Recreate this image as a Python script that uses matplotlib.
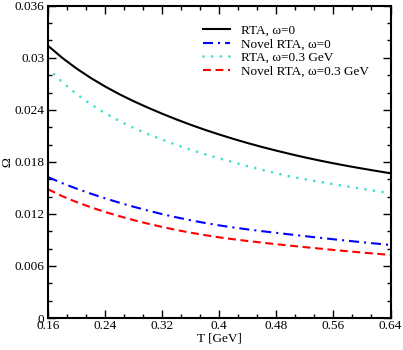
import numpy as np
import matplotlib
matplotlib.use("Agg")
import matplotlib.pyplot as plt
from matplotlib.ticker import MultipleLocator, FixedFormatter, FixedLocator

# temperature grid [GeV]
T = [0.16, 0.18, 0.20, 0.22, 0.24, 0.26, 0.28, 0.30, 0.32, 0.34, 0.36, 0.38, 0.40,
     0.42, 0.44, 0.46, 0.48, 0.50, 0.52, 0.54, 0.56, 0.58, 0.60, 0.62, 0.64]

# Omega values
rta_w0 = [0.03140, 0.03000, 0.02877, 0.02768, 0.02670, 0.02581, 0.02500, 0.02426,
          0.02356, 0.02290, 0.02228, 0.02170, 0.02116, 0.02065, 0.02017, 0.01972,
          0.01930, 0.01890, 0.01852, 0.01817, 0.01784, 0.01753, 0.01724, 0.01696,
          0.01669]
novel_w0 = [0.01625, 0.01555, 0.01492, 0.01434, 0.01380, 0.01330, 0.01283, 0.01239,
            0.01198, 0.01161, 0.01127, 0.01096, 0.01068, 0.01044, 0.01022, 0.01001,
            0.00982, 0.00963, 0.00944, 0.00926, 0.00908, 0.00891, 0.00874, 0.00858,
            0.00842]
rta_w03 = [0.02880, 0.02720, 0.02582, 0.02465, 0.02362, 0.02272, 0.02192, 0.02122,
           0.02057, 0.01996, 0.01940, 0.01889, 0.01841, 0.01795, 0.01751, 0.01709,
           0.01669, 0.01630, 0.01600, 0.01571, 0.01543, 0.01516, 0.01490, 0.01464,
           0.01439]
novel_w03 = [0.01485, 0.01405, 0.01337, 0.01277, 0.01223, 0.01174, 0.01129, 0.01088,
             0.01050, 0.01015, 0.00984, 0.00956, 0.00930, 0.00908, 0.00888, 0.00869,
             0.00851, 0.00834, 0.00817, 0.00801, 0.00785, 0.00770, 0.00755, 0.00741,
             0.00727]

labels = ["RTA, ω=0", "Novel RTA, ω=0", "RTA, ω=0.3 GeV", "Novel RTA, ω=0.3 GeV"]

x_ticks = [0.16, 0.24, 0.32, 0.40, 0.48, 0.56, 0.64]
x_ticklabels = ["0.16", "0.24", "0.32", "0.4", "0.48", "0.56", "0.64"]
y_ticks = [0, 0.006, 0.012, 0.018, 0.024, 0.03, 0.036]
y_ticklabels = ["0", "0.006", "0.012", "0.018", "0.024", "0.03", "0.036"]

plt.rcParams["font.family"] = ["Liberation Serif", "DejaVu Serif"]
fs = 9.5

fig = plt.figure(figsize=(4.03, 3.5), dpi=100)
ax = fig.add_axes([0.119, 0.0914, 0.850, 0.892])

lw = 1.5
ax.plot(T, rta_w0, color="black", lw=lw, label=labels[0])
ax.plot(T, novel_w0, color="blue", lw=lw, label=labels[1],
        linestyle=(0, (4.8, 2.4, 1.0, 2.4)))
ax.plot(T, rta_w03, color="#40e0d0", lw=2.0, label=labels[2],
        linestyle=(0, (0.01, 3.1)), dash_capstyle="round")
ax.plot(T, novel_w03, color="red", lw=lw, label=labels[3],
        linestyle=(0, (3.8, 2.2)))

ax.set_xlim(0.16, 0.64)
ax.set_ylim(0, 0.036)

ax.xaxis.set_major_locator(FixedLocator(x_ticks))
ax.xaxis.set_major_formatter(FixedFormatter(x_ticklabels))
ax.xaxis.set_minor_locator(MultipleLocator(0.08 / 3))
ax.yaxis.set_major_locator(FixedLocator(y_ticks))
ax.yaxis.set_major_formatter(FixedFormatter(y_ticklabels))
ax.yaxis.set_minor_locator(MultipleLocator(0.002))

ax.tick_params(which="both", direction="in", top=True, right=True,
               labelsize=fs, width=1.0)
ax.tick_params(which="major", length=5.5, pad=2.5)
ax.tick_params(axis="x", which="major", pad=1.5)
ax.tick_params(which="minor", length=3)
for s in ax.spines.values():
    s.set_linewidth(1.5)

ax.set_xlabel("T [GeV]", fontsize=fs, labelpad=0)
ax.set_ylabel("Ω", fontsize=fs, labelpad=1)

ax.legend(loc="upper left", bbox_to_anchor=(0.4526, 0.940), frameon=False,
          fontsize=fs, handlelength=2.05, handletextpad=0.8,
          labelspacing=0.1, borderpad=0, borderaxespad=0)

plt.savefig("out.png", dpi=100)
